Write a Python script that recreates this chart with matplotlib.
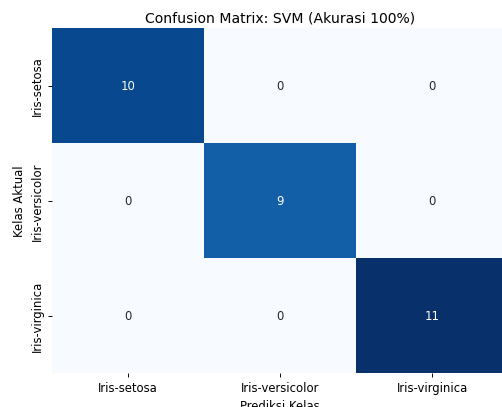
import numpy as np
import matplotlib
matplotlib.use("Agg")
import matplotlib.pyplot as plt
import seaborn as sns

# label kelas dan matriks konfusi
classes = ["Iris-setosa", "Iris-versicolor", "Iris-virginica"]
cm = np.array([
    [10, 0, 0],
    [0, 9, 0],
    [0, 0, 11],
])

DPI = 84
fig = plt.figure(figsize=(502 / DPI, 408 / DPI), dpi=DPI)
ax = fig.add_axes([52 / 502, 34 / 408, 456 / 502, 345 / 408])

sns.heatmap(cm, annot=True, fmt="d", cmap="Blues", cbar=False,
            xticklabels=classes, yticklabels=classes, ax=ax)

ax.set_title("Confusion Matrix: SVM (Akurasi 100%)")
ax.set_xlabel("Prediksi Kelas")
ax.set_ylabel("Kelas Aktual")

fig.savefig("out.png", dpi=DPI)
plt.close(fig)
